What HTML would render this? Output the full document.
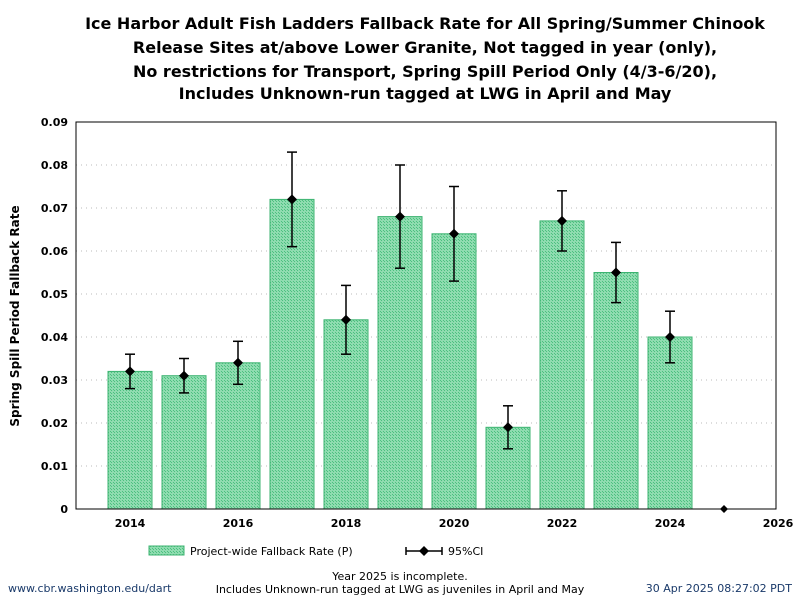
<!DOCTYPE html>
<html><head><meta charset="utf-8"><style>
body{margin:0;background:#fff;}
svg{font-family:"DejaVu Sans","Liberation Sans",sans-serif;}
</style></head><body>
<svg id="c" width="800" height="600" xmlns="http://www.w3.org/2000/svg">
<defs><pattern id="hatch" width="3" height="3" patternUnits="userSpaceOnUse"><rect width="3" height="3" fill="#8fdcb0"/><rect width="1" height="1" fill="#4cc080"/><rect x="2" y="2" width="1" height="1" fill="#4cc080"/></pattern></defs>
<g font-weight="bold" font-size="16" text-anchor="middle" fill="#000">
<text x="425" y="29">Ice Harbor Adult Fish Ladders Fallback Rate for All Spring/Summer Chinook</text>
<text x="425" y="53">Release Sites at/above Lower Granite, Not tagged in year (only),</text>
<text x="425" y="77">No restrictions for Transport, Spring Spill Period Only (4/3-6/20),</text>
<text x="425" y="99">Includes Unknown-run tagged at LWG in April and May</text>
</g>
<text transform="translate(19,316) rotate(-90)" text-anchor="middle" font-size="12" font-weight="bold">Spring Spill Period Fallback Rate</text>
<g id="grid"></g><g id="bars"></g><g id="ci"></g><g id="axes"></g>
<rect x="76" y="122" width="700" height="387" fill="none" stroke="#000" stroke-width="1"/>
<g font-size="11">
<rect x="149" y="546" width="35" height="9" fill="url(#hatch)" stroke="#3cb371"/>
<text x="190" y="555">Project-wide Fallback Rate (P)</text>
<line x1="406" y1="551" x2="442" y2="551" stroke="#000" stroke-width="1.5"/>
<line x1="406" y1="547" x2="406" y2="555" stroke="#000" stroke-width="1.5"/>
<line x1="442" y1="547" x2="442" y2="555" stroke="#000" stroke-width="1.5"/>
<path d="M424 546 L429 551 L424 556 L419 551Z" fill="#000"/>
<text x="448" y="555">95%CI</text>
</g>
<text x="8" y="592" font-size="11" fill="#1a3a6a">www.cbr.washington.edu/dart</text>
<text x="400" y="580" font-size="11" text-anchor="middle">Year 2025 is incomplete.</text>
<text x="400" y="593" font-size="11" text-anchor="middle">Includes Unknown-run tagged at LWG as juveniles in April and May</text>
<text x="792" y="592" font-size="11" text-anchor="end" fill="#1a3a6a">30 Apr 2025 08:27:02 PDT</text>
</svg>
<script>
const years=[2014,2015,2016,2017,2018,2019,2020,2021,2022,2023,2024];
const rates=[0.032,0.031,0.034,0.072,0.044,0.068,0.064,0.019,0.067,0.055,0.040];
const ciLow=[0.028,0.027,0.029,0.061,0.036,0.056,0.053,0.014,0.060,0.048,0.034];
const ciHigh=[0.036,0.035,0.039,0.083,0.052,0.080,0.075,0.024,0.074,0.062,0.046];
const extraYears=[2025];const extraRates=[0];
const yTicks=[0,0.01,0.02,0.03,0.04,0.05,0.06,0.07,0.08,0.09];
const xTicks=[2014,2016,2018,2020,2022,2024,2026];
const NS="http://www.w3.org/2000/svg";
const X=v=>76+(v-2013)*54, Y=v=>509-v/0.09*387;
function mk(tag,attrs,parent){const e=document.createElementNS(NS,tag);for(const k in attrs)e.setAttribute(k,attrs[k]);document.getElementById(parent).appendChild(e);return e;}
yTicks.forEach(t=>{
 if(t>0&&t<0.09){const g=mk('line',{x1:76,x2:776,y1:Y(t),y2:Y(t),stroke:'#bbb','stroke-dasharray':'1,4'},'grid');
 
 }
 const l=mk('text',{x:68,y:Y(t)+4,'text-anchor':'end','font-size':11,'font-weight':'bold'},'axes');l.textContent=t===0?'0':t.toFixed(2);
 
 
});
xTicks.forEach(t=>{
 const l=mk('text',{x:X(t),y:527,'text-anchor':'middle','font-size':11,'font-weight':'bold'},'axes');l.textContent=t;
 
 
});
years.forEach((yr,i)=>{
 const b=mk('rect',{x:X(yr)-22,y:Y(rates[i]),width:44,height:Y(0)-Y(rates[i]),fill:'url(#hatch)',stroke:'#3cb371','stroke-width':1},'bars');
 
 
 const x=X(yr),g=document.createElementNS(NS,'g');document.getElementById('ci').appendChild(g);
 
 
 g.innerHTML=`<line x1="${x}" x2="${x}" y1="${Y(ciLow[i])}" y2="${Y(ciHigh[i])}" stroke="#000" stroke-width="1.5"/><line x1="${x-5}" x2="${x+5}" y1="${Y(ciLow[i])}" y2="${Y(ciLow[i])}" stroke="#000" stroke-width="1.5"/><line x1="${x-5}" x2="${x+5}" y1="${Y(ciHigh[i])}" y2="${Y(ciHigh[i])}" stroke="#000" stroke-width="1.5"/><path d="M${x} ${Y(rates[i])-5} L${x+5} ${Y(rates[i])} L${x} ${Y(rates[i])+5} L${x-5} ${Y(rates[i])}Z" fill="#000"/>`;
});
extraYears.forEach((yr,i)=>{const x=X(yr),y=Y(extraRates[i]);
 const p=mk('path',{d:`M${x} ${y-4} L${x+4} ${y} L${x} ${y+4} L${x-4} ${y}Z`,fill:'#000'},'ci');
 
 
});
</script>
</body></html>
